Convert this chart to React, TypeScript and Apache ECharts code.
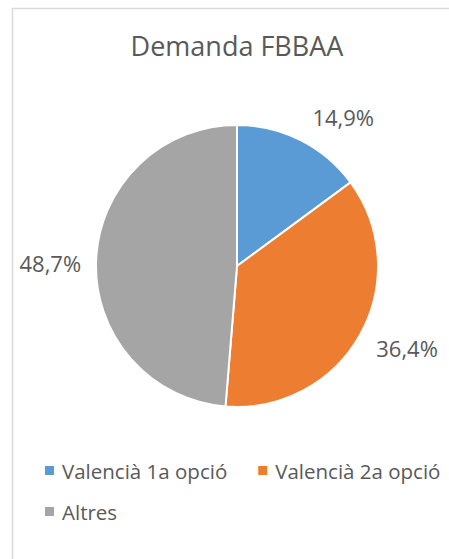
import React, { useEffect, useRef } from "react";
import * as echarts from "echarts";

const title = "Demanda FBBAA";
const categories = ["Valencià 1a opció", "Valencià 2a opció", "Altres"];
const values = [14.9, 36.4, 48.7];
const colors = ["#5B9BD5", "#ED7D31", "#A5A5A5"];

const labelNudge = [
  { dx: -5, dy: -10 },
  { dx: -7, dy: 6 },
  { dx: 10, dy: 3 },
];

export default function App() {
  const ref = useRef<HTMLDivElement>(null);
  useEffect(() => {
    if (!ref.current) return;
    const chart = echarts.init(ref.current, null, { renderer: "svg" });
    const font = "'Open Sans', 'Noto Sans', sans-serif";
    const legendText = { fontFamily: font, fontSize: 20.5, color: "#595959", padding: [0, 0, 0, 3] };
    chart.setOption({
      animation: false,
      backgroundColor: "#ffffff",
      title: {
        text: title,
        left: 237,
        textAlign: "center",
        top: 32,
        padding: 0,
        textStyle: { fontFamily: font, fontSize: 27, fontWeight: "normal", color: "#595959" },
      },
      graphic: [
        {
          type: "rect",
          shape: { x: 12.5, y: 8.5, width: 480, height: 600 },
          style: { fill: "none", stroke: "#D9D9D9", lineWidth: 1.5 },
          silent: true,
        },
      ],
      legend: [
        {
          data: categories.slice(0, 2),
          left: 45,
          top: 460,
          padding: 0,
          orient: "horizontal",
          icon: "rect",
          itemWidth: 9,
          itemHeight: 9,
          itemGap: 31,
          itemStyle: { borderWidth: 0 },
          textStyle: legendText,
        },
        {
          data: categories.slice(2),
          left: 45,
          top: 501,
          padding: 0,
          orient: "horizontal",
          icon: "rect",
          itemWidth: 9,
          itemHeight: 9,
          itemStyle: { borderWidth: 0 },
          textStyle: legendText,
        },
      ],
      series: [
        {
          type: "pie",
          center: [237, 266],
          radius: 141,
          startAngle: 90,
          clockwise: true,
          color: colors,
          itemStyle: { borderColor: "#ffffff", borderWidth: 2 },
          label: {
            show: true,
            position: "outside",
            overflow: "none",
            edgeDistance: 0,
            formatter: (p: any) => p.value.toFixed(1).replace(".", ",") + "%",
            fontFamily: font,
            fontSize: 22,
            color: "#595959",
          },
          labelLine: { show: false, length: 15, length2: 5 },
          labelLayout: (p: any) => labelNudge[p.dataIndex],
          data: categories.map((c, i) => ({ name: c, value: values[i] })),
        },
      ],
    });
    return () => chart.dispose();
  }, []);
  return (
    <div
      ref={ref}
      style={{ position: "absolute", left: 0, top: 0, width: 449, height: 559 }}
    />
  );
}
